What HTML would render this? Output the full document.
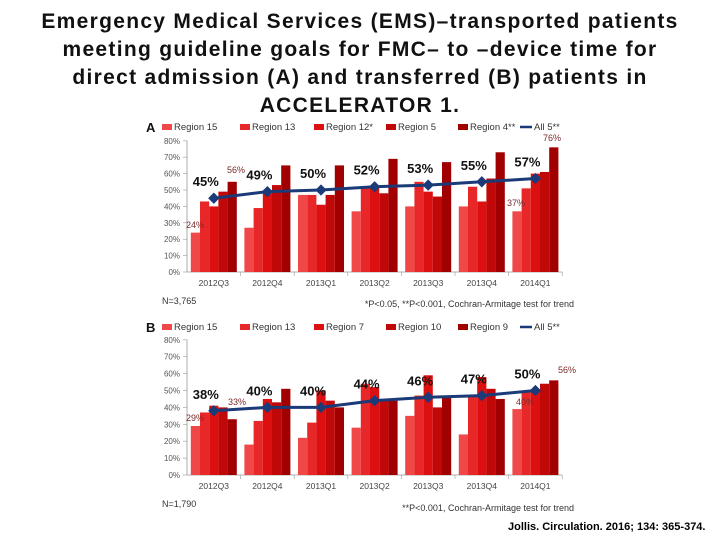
<!DOCTYPE html>
<html><head><meta charset="utf-8"><style>
body{margin:0;width:720px;height:540px;background:#fff;overflow:hidden;font-family:"Liberation Sans",sans-serif}
h1{position:absolute;left:0;top:8px;width:720px;margin:0;text-align:center;font-size:21px;line-height:28px;letter-spacing:1.3px;font-weight:bold;color:#111;white-space:nowrap}
.cite{position:absolute;left:508px;top:521px;font-size:11px;font-weight:bold}
</style></head><body>
<h1>Emergency Medical Services (EMS)–transported patients<br>meeting guideline goals for FMC– to –device time for<br>direct admission (A) and transferred (B) patients in<br>ACCELERATOR 1.</h1>
<svg id="svg" width="720" height="540" style="position:absolute;left:0;top:0"></svg>
<div class="cite">Jollis. Circulation. 2016; 134: 365-374.</div>
<script>
const categories=["2012Q3","2012Q4","2013Q1","2013Q2","2013Q3","2013Q4","2014Q1"];
const ticks=[0,10,20,30,40,50,60,70,80];
const namesA=["Region 15","Region 13","Region 12*","Region 5","Region 4**"];
const namesB=["Region 15","Region 13","Region 7","Region 10","Region 9"];
const a1=[24,27,47,37,40,40,37];
const a2=[43,39,47,52,55,52,51];
const a3=[40,48,41,52,49,43,60];
const a4=[49,53,47,48,46,57,61];
const a5=[55,65,65,69,67,73,76];
const aAll=[45,49,50,52,53,55,57];
const b1=[29,18,22,28,35,24,39];
const b2=[37,32,31,54,47,47,49];
const b3=[41,45,50,52,59,58,50];
const b4=[40,43,44,44,40,51,54];
const b5=[33,51,40,44,47,45,56];
const bAll=[38,40,40,44,46,47,50];
const colors=["#f04848","#e82828","#dc1010","#c00808","#a00000"];
const NS="http://www.w3.org/2000/svg";
const svg=document.getElementById('svg');
function mk(t,at,txt){const e=document.createElementNS(NS,t);for(const k in at)e.setAttribute(k,at[k]);if(txt!==undefined)e.textContent=txt;svg.appendChild(e);return e;}
function chart(o){
 const x0=187,cw=53.6,y0=o.y0,pp=o.pp;
 const y=v=>y0-v*pp/10, xc=i=>x0+cw*i+cw/2;
 let e=mk('text',{x:146,y:o.legY+5,'font-size':13,'font-weight':'bold',fill:'#111'},o.letter);
 
 let lx=[162,240,314,386,458];
 o.names.forEach((n,i)=>{
  let r=mk('rect',{x:lx[i],y:o.legY-3,width:10,height:6,fill:colors[i]});
  
  let t=mk('text',{x:lx[i]+12,y:o.legY+3,'font-size':9.5,fill:'#333'},n);
  
 });
 mk('line',{x1:520,x2:532,y1:o.legY,y2:o.legY,stroke:'#1a3a78','stroke-width':2.5});
 let lt=mk('text',{x:534,y:o.legY+3,'font-size':9.5,fill:'#333'},'All 5**');
 
 ticks.forEach(t=>{let tx=mk('text',{x:180,y:y(t)+3,'font-size':8,fill:'#555','text-anchor':'end'},t+'%');
  
  mk('line',{x1:183,x2:187,y1:y(t),y2:y(t),stroke:'#999','stroke-width':0.6});});
 mk('line',{x1:x0,x2:x0,y1:y(80),y2:y0,stroke:'#999','stroke-width':0.8});
 mk('line',{x1:x0,x2:x0+cw*7,y1:y0,y2:y0,stroke:'#999','stroke-width':0.8});
 categories.forEach((c,i)=>{
  mk('line',{x1:x0+cw*(i+1),x2:x0+cw*(i+1),y1:y0,y2:y0+4,stroke:'#999','stroke-width':0.6});
  let t=mk('text',{x:xc(i),y:y0+14,'font-size':8.5,fill:'#444','text-anchor':'middle'},c);
  
  o.series.forEach((s,j)=>{
   let r=mk('rect',{x:xc(i)-23+j*9.2,y:y(s[i]),width:9.2,height:y0-y(s[i]),fill:colors[j]});
   
  });
 });
 let pts=o.all.map((v,i)=>xc(i)+','+y(v)).join(' ');
 let pl=mk('polyline',{points:pts,fill:'none',stroke:'#1a3a78','stroke-width':3});
 
 o.all.forEach((v,i)=>{
  let d=mk('rect',{x:xc(i)-4,y:y(v)-4,width:8,height:8,fill:'#1a3a78',transform:`rotate(45 ${xc(i)} ${y(v)})`});
  
  let t=mk('text',{x:xc(i)-8,y:y(v)-12,'font-size':13,'font-weight':'bold',fill:'#111','text-anchor':'middle'},v+'%');
  
 });
 o.notes.forEach(n=>{let t=mk('text',{x:n[0],y:n[1],'font-size':9,fill:'#7a2a2a'},n[2]);
  });
 let nn=mk('text',{x:162,y:y0+32,'font-size':9,fill:'#333'},o.n);
 
 let ft=mk('text',{x:574,y:o.footY,'font-size':9,fill:'#333','text-anchor':'end'},o.foot);
 
}
chart({letter:'A',legY:127,y0:272,pp:16.4,names:namesA,series:[a1,a2,a3,a4,a5],all:aAll,
 notes:[[186,228,'24%'],[227,173,'56%'],[507,206,'37%'],[543,141,'76%']],n:'N=3,765',foot:'*P<0.05, **P<0.001, Cochran-Armitage test for trend',footY:307});
chart({letter:'B',legY:327,y0:475,pp:16.9,names:namesB,series:[b1,b2,b3,b4,b5],all:bAll,
 notes:[[186,421,'29%'],[228,405,'33%'],[516,405,'40%'],[558,373,'56%']],n:'N=1,790',foot:'**P<0.001, Cochran-Armitage test for trend',footY:511});
</script>
</body></html>
